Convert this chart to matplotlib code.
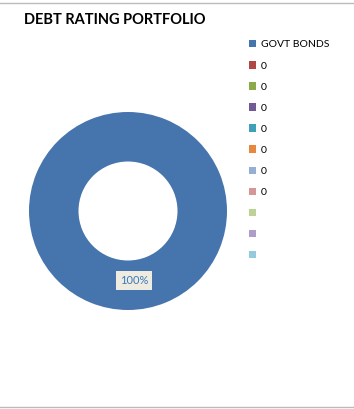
import matplotlib.pyplot as plt
from matplotlib.lines import Line2D
from matplotlib.patches import Patch

plt.rcParams['font.family'] = ['Lato', 'DejaVu Sans']

# data
labels = ["GOVT BONDS", "0", "0", "0", "0", "0", "0", "0", "", "", ""]
values = [100, 0, 0, 0, 0, 0, 0, 0, 0, 0, 0]
colors = ["#4674AC", "#B04744", "#8DAA4B", "#725A94", "#41A0B8",
          "#E8883F", "#94AED6", "#D59796", "#BDD396", "#AE9DC7", "#93CBDD"]

fig = plt.figure(figsize=(3.54, 4.09), dpi=100)
ax = fig.add_axes([29 / 354, 1 - 310 / 409, 198 / 354, 198 / 409])

wedges, _ = ax.pie(values, colors=colors, startangle=90, counterclock=False,
                   wedgeprops=dict(width=0.5, edgecolor="none"))
ax.set_aspect("equal")
ax.set_xlim(-1, 1)
ax.set_ylim(-1, 1)

# percentage label for the only non-zero slice
ax.text(0.06, -0.70, "100%", ha="center", va="center", fontsize=8,
        color="#3A78B8",
        bbox=dict(boxstyle="square,pad=0.35", facecolor="#EEECE1", edgecolor="none"))

fig.text(24 / 354, 1 - 20 / 409, "DEBT RATING PORTFOLIO", fontsize=10.5,
         fontweight="bold", va="center", ha="left")

handles = [Patch(facecolor=c, edgecolor="none") for c in colors]
fig.legend(handles, labels, loc="upper left", bbox_to_anchor=(245 / 354, 1 - 36 / 409),
           frameon=False, fontsize=7.5, handlelength=0.7, handleheight=0.7,
           handletextpad=0.4, labelspacing=1.13, borderaxespad=0)

# thin frame lines at top and bottom like the source
fig.add_artist(Line2D([0, 1], [1 - 3 / 409, 1 - 3 / 409], color="#BBBBBB", lw=1))
fig.add_artist(Line2D([0, 1], [1 - 407 / 409, 1 - 407 / 409], color="#BBBBBB", lw=1))

fig.savefig("out.png", dpi=100)
